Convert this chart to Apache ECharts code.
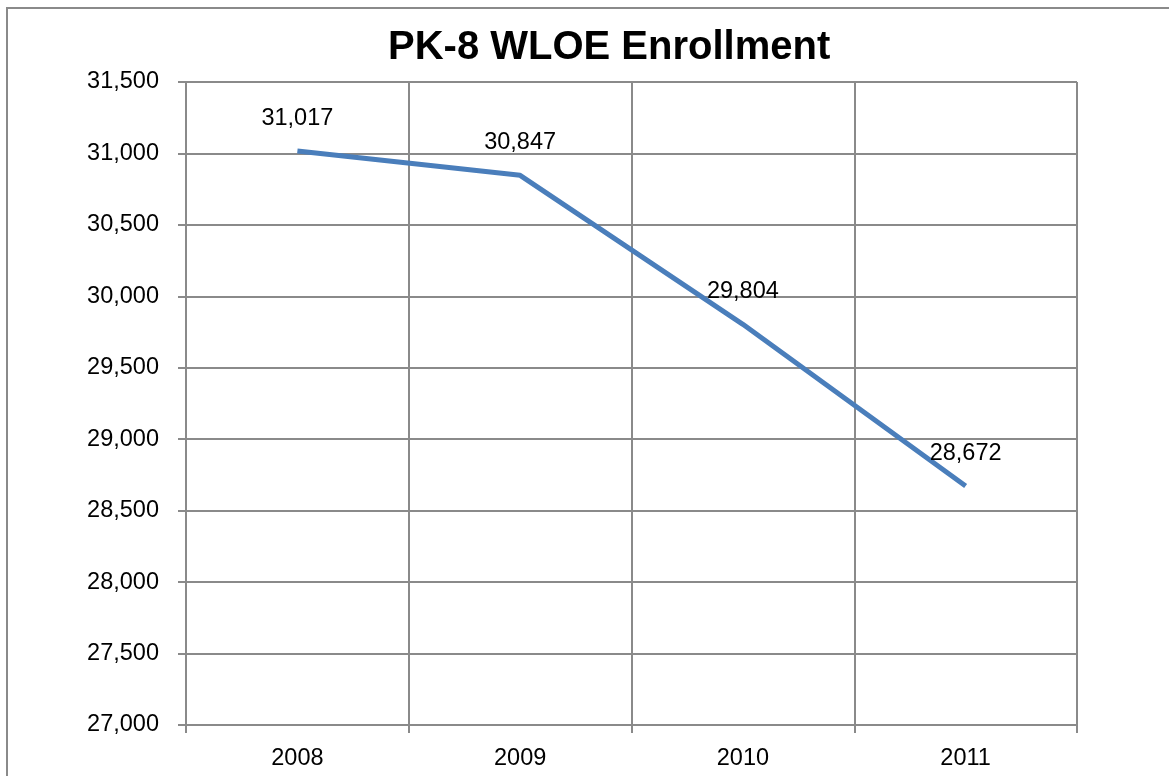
<!DOCTYPE html>
<html><head><meta charset="utf-8">
<script src="https://cdn.jsdelivr.net/npm/echarts@6/dist/echarts.min.js"></script>
<style>html,body{margin:0;padding:0;background:#fff}#c{width:1169px;height:776px}</style>
</head><body><div id="c"></div>
<script>
const titleText = "PK-8 WLOE Enrollment";
const categories = ["2008", "2009", "2010", "2011"];
const enrollment = [31017, 30847, 29804, 28672];
const yMin = 27000, yMax = 31500, yStep = 500;

const chart = echarts.init(document.getElementById('c'));
const fmt = v => v.toLocaleString('en-US');
const gridColor = '#8a8a8a';
const font = '"Liberation Sans", Arial, sans-serif';
chart.setOption({
  animation: false,
  backgroundColor: '#fff',
  graphic: [{type:'rect', shape:{x:7, y:8, width:1300, height:900}, style:{fill:'none', stroke:'#8a8a8a', lineWidth:2}, silent:true}],
  title: {text: titleText, left: 383, top: 23, textStyle:{fontFamily:font, fontWeight:'bold', fontSize:40, color:'#000'}},
  grid: {left: 186, right: 92, top: 82, bottom: 51},
  xAxis: {
    type: 'category', data: categories, boundaryGap: true,
    axisLine: {lineStyle:{color:gridColor, width:2}},
    axisTick: {show:true, length:8, lineStyle:{color:gridColor, width:2}},
    splitLine: {show:true, lineStyle:{color:gridColor, width:2}},
    axisLabel: {fontFamily:font, fontSize:23.5, color:'#000', margin:22}
  },
  yAxis: {
    type: 'value', min: yMin, max: yMax, interval: yStep,
    axisLine: {show:true, lineStyle:{color:gridColor, width:2}},
    axisTick: {show:true, length:8, lineStyle:{color:gridColor, width:2}},
    splitLine: {show:true, lineStyle:{color:gridColor, width:2}},
    axisLabel: {fontFamily:font, fontSize:23.5, color:'#000', margin:27, formatter: fmt}
  },
  series: [{
    type: 'line', data: enrollment, symbol: 'circle', symbolSize: 1, showSymbol: true,
    itemStyle: {color:'rgba(0,0,0,0)'},
    lineStyle: {color:'#4a7ebb', width:5},
    label: {show:true, position:'top', distance:20, fontFamily:font, fontSize:23.5, color:'#000', formatter: p => fmt(p.value)}
  }]
});
</script></body></html>
